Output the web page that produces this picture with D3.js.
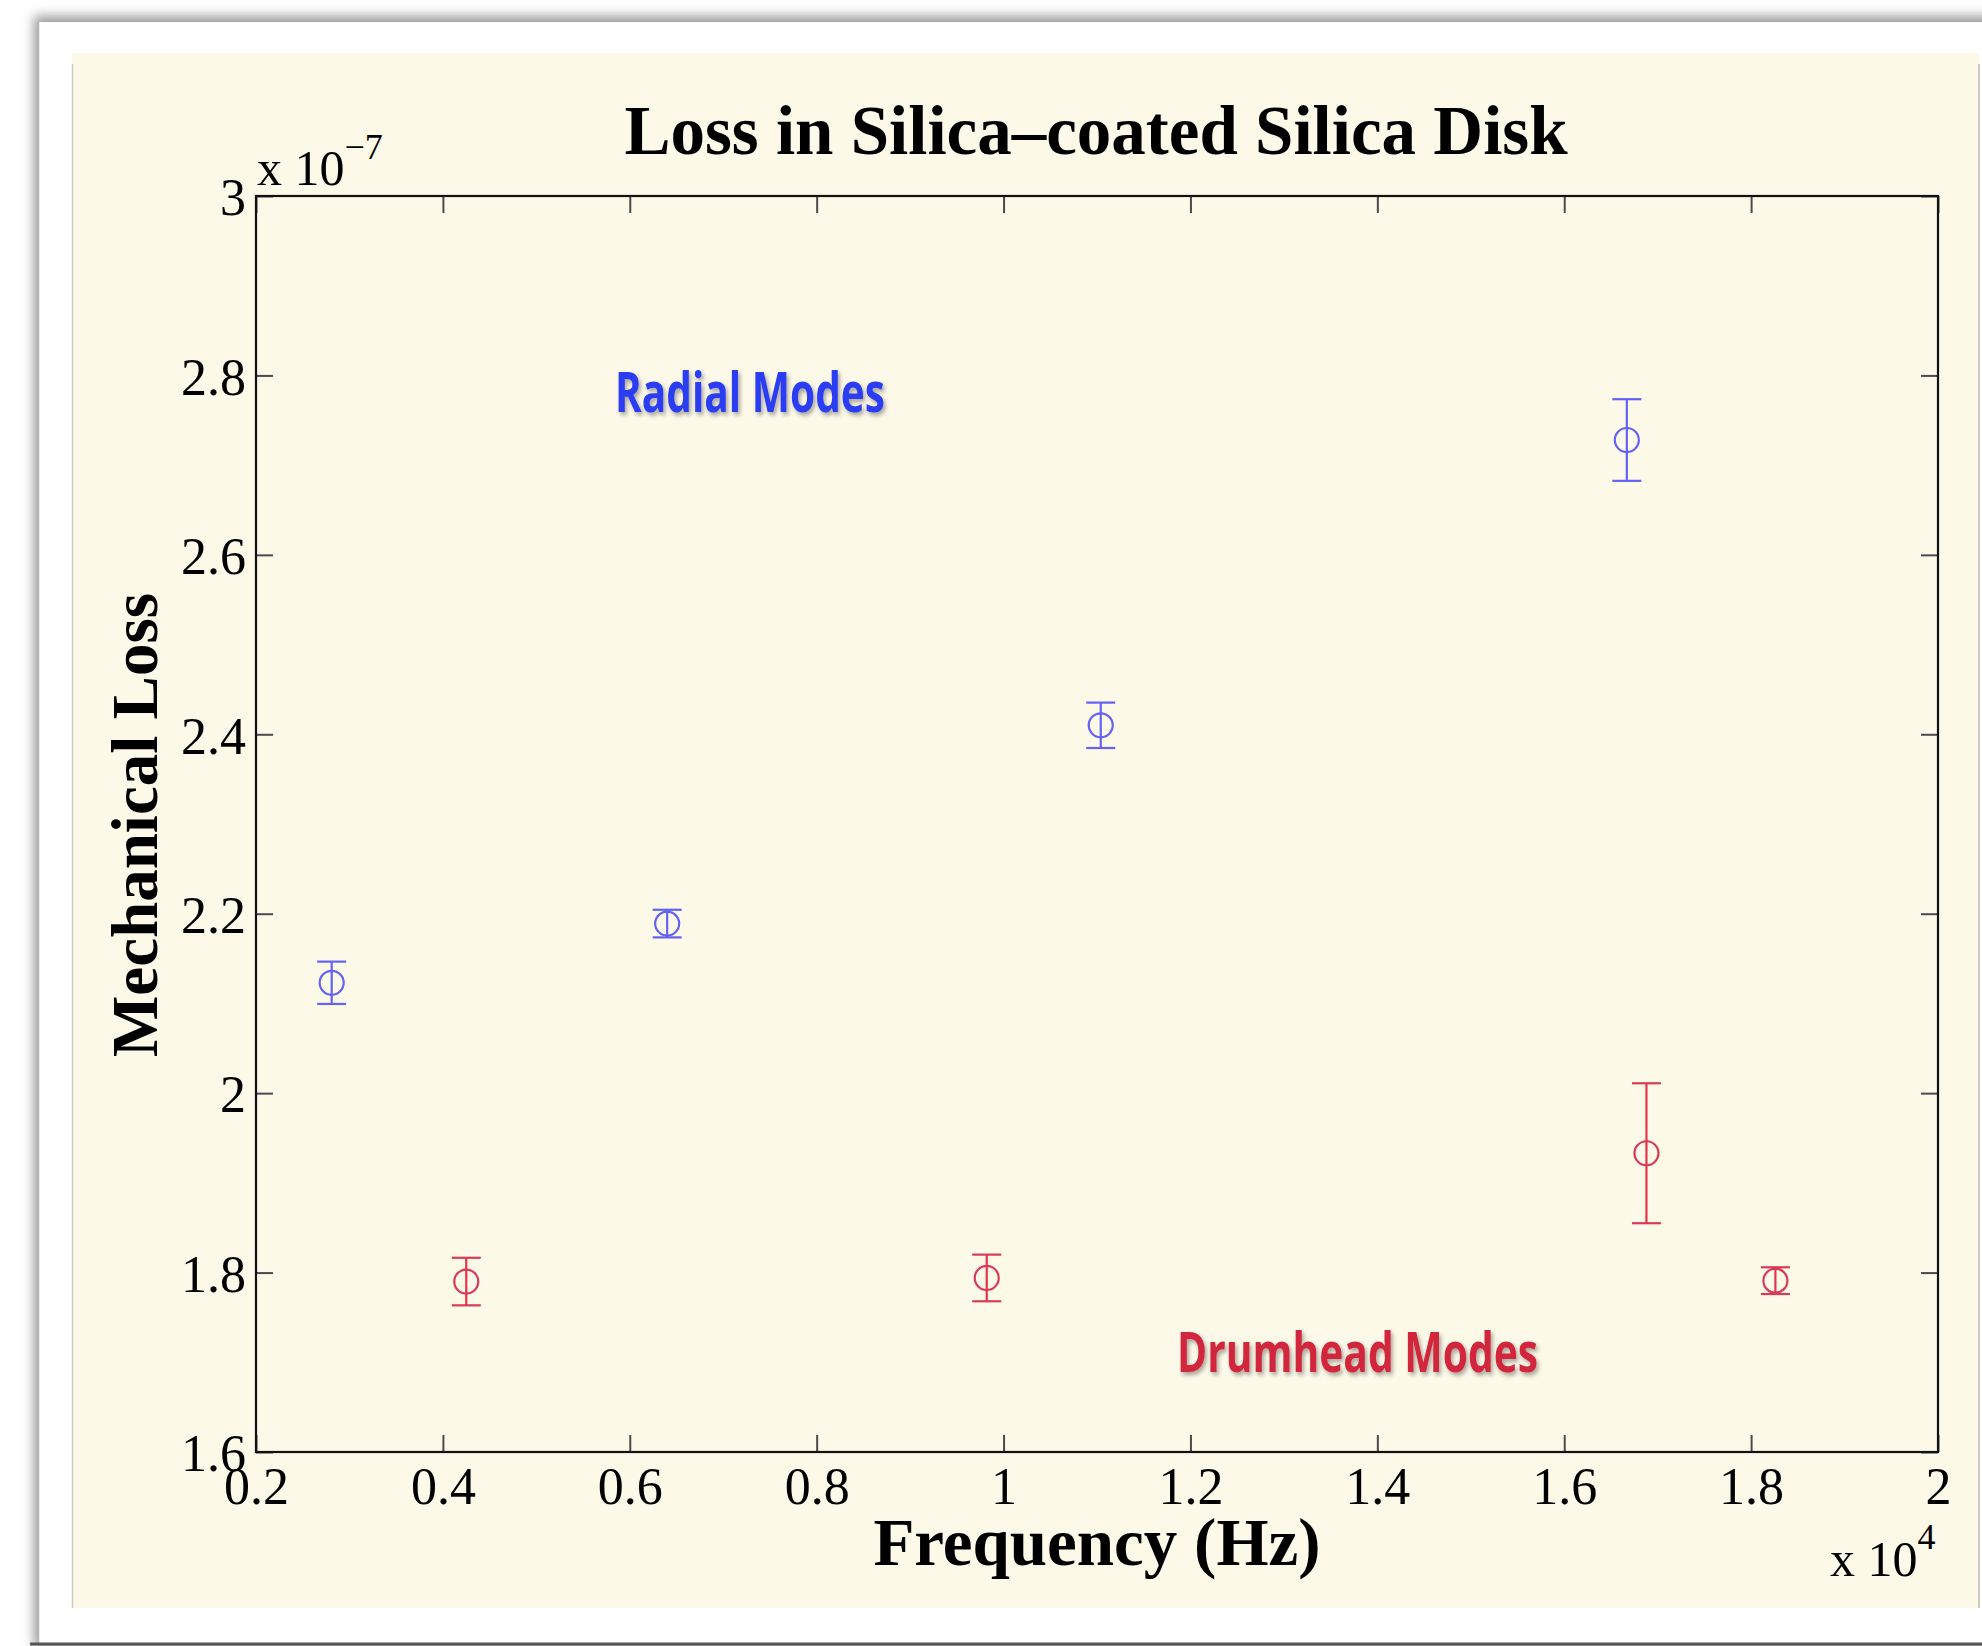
<!DOCTYPE html>
<html>
<head>
<meta charset="utf-8">
<script src="https://cdn.jsdelivr.net/npm/d3@7"></script>
<style>
  html, body { margin: 0; padding: 0; background: #ffffff; }
  svg { display: block; }
</style>
</head>
<body>
<svg id="chart" width="1982" height="1646"></svg>
<script>
// Measured mechanical loss of a silica-coated silica disk
const radialFreq = [2810, 6400, 11040, 16670];          // Hz
const radialLoss = [2.123e-7, 2.189e-7, 2.410e-7, 2.728e-7];
const radialErr  = [0.0236e-7, 0.0154e-7, 0.0253e-7, 0.0455e-7];

const drumFreq = [4250, 9820, 16880, 18260];            // Hz
const drumLoss = [1.790e-7, 1.794e-7, 1.933e-7, 1.791e-7];
const drumErr  = [0.0265e-7, 0.026e-7, 0.078e-7, 0.0149e-7];

const xTicks = [2000, 4000, 6000, 8000, 10000, 12000, 14000, 16000, 18000, 20000];
const xTickLabels = ["0.2", "0.4", "0.6", "0.8", "1", "1.2", "1.4", "1.6", "1.8", "2"];
const yTicks = [1.6e-7, 1.8e-7, 2.0e-7, 2.2e-7, 2.4e-7, 2.6e-7, 2.8e-7, 3.0e-7];
const yTickLabels = ["1.6", "1.8", "2", "2.2", "2.4", "2.6", "2.8", "3"];

const titleText = "Loss in Silica\u2013coated Silica Disk";
const xLabelText = "Frequency (Hz)";
const yLabelText = "Mechanical Loss";
const radialLabel = "Radial Modes";
const drumLabel = "Drumhead Modes";

const svg = d3.select("#chart");
const W = 1982, H = 1646;
const plot = { left: 256, right: 1938, top: 196, bottom: 1452 };
const serif = "'Liberation Serif', 'Times New Roman', serif";
const sans = "'Open Sans', 'Noto Sans', sans-serif";

const defs = svg.append("defs");
const winShadow = defs.append("filter").attr("id", "winShadow")
  .attr("x", "-5%").attr("y", "-5%").attr("width", "110%").attr("height", "110%");
winShadow.append("feGaussianBlur").attr("stdDeviation", 6);

const textShadow = defs.append("filter").attr("id", "textShadow")
  .attr("x", "-10%").attr("y", "-30%").attr("width", "120%").attr("height", "160%");
textShadow.append("feGaussianBlur").attr("in", "SourceAlpha").attr("stdDeviation", 2.2).attr("result", "b");
textShadow.append("feOffset").attr("in", "b").attr("dx", 2).attr("dy", 3).attr("result", "o");
textShadow.append("feComponentTransfer").attr("in", "o").attr("result", "s")
  .append("feFuncA").attr("type", "linear").attr("slope", 0.35);
const tm = textShadow.append("feMerge");
tm.append("feMergeNode").attr("in", "s");
tm.append("feMergeNode").attr("in", "SourceGraphic");

const soft = defs.append("filter").attr("id", "soft");
soft.append("feGaussianBlur").attr("stdDeviation", 0.6);

// window frame around the figure
svg.append("rect").attr("width", W).attr("height", H).attr("fill", "#ffffff");
svg.append("rect").attr("x", 34).attr("y", 16).attr("width", W).attr("height", 1632)
  .attr("fill", "#9a9a9a").attr("filter", "url(#winShadow)");
svg.append("rect").attr("x", 38).attr("y", 22).attr("width", W).attr("height", 1621)
  .attr("fill", "#ffffff");
svg.append("line").attr("x1", 38.5).attr("x2", 38.5).attr("y1", 22).attr("y2", 1643)
  .attr("stroke", "#b5b5b5").attr("stroke-width", 1.5);
svg.append("line").attr("x1", 30).attr("x2", W).attr("y1", 1644).attr("y2", 1644)
  .attr("stroke", "#555555").attr("stroke-width", 3);

// figure background
svg.append("rect").attr("x", 72).attr("y", 53).attr("width", 1907).attr("height", 1555)
  .attr("fill", "#fdf9e9");
svg.append("line").attr("x1", 72.5).attr("x2", 72.5).attr("y1", 64).attr("y2", 1608)
  .attr("stroke", "#cfcbbd").attr("stroke-width", 1.5);
svg.append("line").attr("x1", 1979).attr("x2", 1979).attr("y1", 64).attr("y2", 1608)
  .attr("stroke", "#bdbab0").attr("stroke-width", 1.5);

const x = d3.scaleLinear().domain([2000, 20000]).range([plot.left, plot.right]);
const y = d3.scaleLinear().domain([1.6e-7, 3.0e-7]).range([plot.bottom, plot.top]);

const g = svg.append("g");

// inward ticks on all four sides
const tickLen = 17;
const xLab = d3.scaleOrdinal().domain(xTicks).range(xTickLabels);
const yLab = d3.scaleOrdinal().domain(yTicks).range(yTickLabels);

function styleAxis(sel) {
  sel.select(".domain").remove();
  sel.selectAll(".tick line").attr("stroke", "#4a4a4a").attr("stroke-width", 2);
  sel.selectAll(".tick text").attr("fill", "#000").attr("font-family", serif).attr("font-size", 52);
}

g.append("g").attr("transform", `translate(0,${plot.bottom})`)
  .call(d3.axisBottom(x).tickValues(xTicks).tickSize(-tickLen).tickPadding(22).tickFormat(d => xLab(d)))
  .call(styleAxis)
  .call(s => s.selectAll(".tick text").attr("dy", "0.71em").attr("y", 15));
g.append("g").attr("transform", `translate(0,${plot.top})`)
  .call(d3.axisTop(x).tickValues(xTicks).tickSize(-tickLen).tickFormat(""))
  .call(styleAxis);
g.append("g").attr("transform", `translate(${plot.left},0)`)
  .call(d3.axisLeft(y).tickValues(yTicks).tickSize(-tickLen).tickPadding(10).tickFormat(d => yLab(d)))
  .call(styleAxis)
  .call(s => s.selectAll(".tick text").attr("x", -10).attr("dy", "0.36em"));
g.append("g").attr("transform", `translate(${plot.right},0)`)
  .call(d3.axisRight(y).tickValues(yTicks).tickSize(-tickLen).tickFormat(""))
  .call(styleAxis);

// axes box
g.append("rect").attr("x", plot.left).attr("y", plot.top)
  .attr("width", plot.right - plot.left).attr("height", plot.bottom - plot.top)
  .attr("fill", "none").attr("stroke", "#111").attr("stroke-width", 2.2);

// exponent labels
const yExp = g.append("text").attr("x", plot.left + 1).attr("y", 185)
  .attr("font-family", serif).attr("font-size", 50).attr("fill", "#000");
yExp.append("tspan").text("x 10");
yExp.append("tspan").attr("dy", -26).attr("font-size", 36).text("\u22127");

const xExp = g.append("text").attr("x", 1830).attr("y", 1576)
  .attr("font-family", serif).attr("font-size", 50).attr("fill", "#000");
xExp.append("tspan").text("x 10");
xExp.append("tspan").attr("dy", -27).attr("font-size", 36).text("4");

// title and axis labels
g.append("text").attr("x", 1096).attr("y", 154).attr("text-anchor", "middle")
  .attr("font-family", serif).attr("font-weight", "bold").attr("font-size", 69)
  .attr("fill", "#000").text(titleText);
g.append("text").attr("x", 1097).attr("y", 1565).attr("text-anchor", "middle")
  .attr("font-family", serif).attr("font-weight", "bold").attr("font-size", 67)
  .attr("fill", "#000").text(xLabelText);
g.append("text").attr("transform", `translate(157,825) rotate(-90)`).attr("text-anchor", "middle")
  .attr("font-family", serif).attr("font-weight", "bold").attr("font-size", 65)
  .attr("fill", "#000").text(yLabelText);

// error bars with circle markers
function drawSeries(freqs, losses, errs, color, lineColor) {
  const data = freqs.map((f, i) => ({ f, v: losses[i], e: errs[i] }));
  const cap = 14.5;
  const s = g.append("g").attr("fill", "none").attr("stroke-width", 2.2).attr("filter", "url(#soft)");
  const pt = s.selectAll("g").data(data).join("g");
  pt.append("line")
    .attr("x1", d => x(d.f)).attr("x2", d => x(d.f))
    .attr("y1", d => y(d.v + d.e)).attr("y2", d => y(d.v - d.e))
    .attr("stroke", lineColor);
  pt.append("line")
    .attr("x1", d => x(d.f) - cap).attr("x2", d => x(d.f) + cap)
    .attr("y1", d => y(d.v + d.e)).attr("y2", d => y(d.v + d.e))
    .attr("stroke", color);
  pt.append("line")
    .attr("x1", d => x(d.f) - cap).attr("x2", d => x(d.f) + cap)
    .attr("y1", d => y(d.v - d.e)).attr("y2", d => y(d.v - d.e))
    .attr("stroke", color);
  pt.append("circle")
    .attr("cx", d => x(d.f)).attr("cy", d => y(d.v)).attr("r", 12)
    .attr("stroke", color);
}
drawSeries(radialFreq, radialLoss, radialErr, "#6262f6", "#6262f6");
drawSeries(drumFreq, drumLoss, drumErr, "#d83a58", "#e8334a");

// series annotations
g.append("text").attr("x", 615).attr("y", 412)
  .attr("font-family", sans).attr("font-weight", 700).attr("font-size", 56)
  .attr("textLength", 270).attr("lengthAdjust", "spacingAndGlyphs")
  .attr("fill", "#2a3cf2").attr("filter", "url(#textShadow)").text(radialLabel);
g.append("text").attr("x", 1177).attr("y", 1372)
  .attr("font-family", sans).attr("font-weight", 700).attr("font-size", 56)
  .attr("textLength", 361).attr("lengthAdjust", "spacingAndGlyphs")
  .attr("fill", "#d2283c").attr("filter", "url(#textShadow)").text(drumLabel);
</script>
</body>
</html>
